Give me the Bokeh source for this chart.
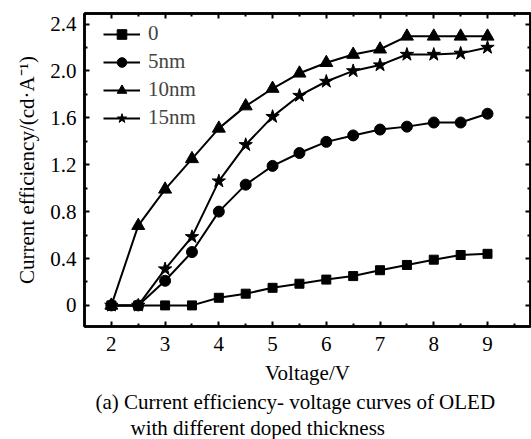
from bokeh.plotting import figure
from bokeh.models import Range1d, LinearAxis, Legend, LegendItem, FixedTicker, Title
from bokeh.embed import file_html
from bokeh.resources import INLINE

voltage = [2, 2.5, 3, 3.5, 4, 4.5, 5, 5.5, 6, 6.5, 7, 7.5, 8, 8.5, 9]
eff_0 = [0, 0, 0, 0, 0.065, 0.10, 0.15, 0.185, 0.22, 0.25, 0.30, 0.345, 0.39, 0.43, 0.44]
eff_5 = [0, 0, 0.21, 0.455, 0.80, 1.03, 1.19, 1.30, 1.395, 1.45, 1.50, 1.525, 1.56, 1.56, 1.635]
eff_10 = [0, 0.68, 0.99, 1.25, 1.51, 1.70, 1.85, 1.98, 2.07, 2.14, 2.185, 2.295, 2.295, 2.295, 2.295]
eff_15 = [0, 0, 0.31, 0.585, 1.06, 1.37, 1.61, 1.79, 1.91, 2.00, 2.05, 2.14, 2.14, 2.15, 2.20]
series_labels = ["0", "5nm", "10nm", "15nm"]
x_ticks = [2, 3, 4, 5, 6, 7, 8, 9]
y_ticks = [0, 0.4, 0.8, 1.2, 1.6, 2.0, 2.4]
y_tick_labels = {0: "0", 0.4: "0.4", 0.8: "0.8", 1.2: "1.2", 1.6: "1.6", 2.0: "2.0", 2.4: "2.4"}
x_label = "Voltage/V"
y_label = "Current efficiency/(cd·A⁻¹)"
caption1 = "(a) Current efficiency- voltage curves of OLED"
caption2 = "with different doped thickness"

FONT = "Liberation Serif"
FS = "21px"

p = figure(width=531, height=439, output_backend="svg", toolbar_location=None,
           x_range=Range1d(1.5, 9.8), y_range=Range1d(-0.18, 2.49),
           min_border_left=84, min_border_right=1, min_border_top=13, min_border_bottom=0,
           x_axis_location=None, y_axis_location=None)
p.grid.visible = False
p.outline_line_color = "black"
p.outline_line_width = 2.5
p.background_fill_color = "white"
p.border_fill_color = "white"

xminor = [2.5, 3.5, 4.5, 5.5, 6.5, 7.5, 8.5, 9.5]
yminor = [-0.2, 0.2, 0.6, 1.0, 1.4, 1.8, 2.2]

def make_axis(ticks, minor, show_labels):
    ax = LinearAxis()
    ax.ticker = FixedTicker(ticks=ticks, minor_ticks=minor)
    ax.axis_line_color = "black"
    ax.axis_line_width = 2.5
    ax.major_tick_in = 5
    ax.major_tick_out = 0
    ax.major_tick_line_width = 2
    ax.minor_tick_in = 3
    ax.minor_tick_out = 0
    ax.minor_tick_line_width = 2
    ax.major_label_text_font = FONT
    ax.major_label_text_color = "black"
    ax.axis_label_text_font = FONT
    ax.axis_label_text_font_size = FS
    ax.axis_label_text_font_style = "normal"
    ax.axis_label_text_color = "black"
    if show_labels:
        ax.major_label_text_font_size = FS
    else:
        ax.major_label_text_font_size = "0px"
        ax.major_label_standoff = 0
        ax.major_label_overrides = {t: "" for t in ticks}
    return ax

xb = make_axis(x_ticks, xminor, True)
xb.major_label_standoff = 10
xb.axis_label = x_label
xb.axis_label_standoff = 7
xt = make_axis(x_ticks, xminor, False)
yl = make_axis(y_ticks, yminor, True)
yl.major_label_overrides = y_tick_labels
yl.major_label_standoff = 8
yl.axis_label = y_label
yl.axis_label_standoff = 8
yr = make_axis(y_ticks, yminor, False)
p.add_layout(xb, "below")
p.add_layout(xt, "above")
p.add_layout(yl, "left")
p.add_layout(yr, "right")

t1 = Title(text=caption1, align="left", offset=11, standoff=0,
           text_font=FONT, text_font_size=FS, text_font_style="normal", text_color="black")
t2 = Title(text=caption2, align="left", offset=46, standoff=0,
           text_font=FONT, text_font_size=FS, text_font_style="normal", text_color="black")
p.add_layout(t1, "below")
p.add_layout(t2, "below")

items = []
specs = [(eff_0, "square", 9), (eff_5, "circle", 11), (eff_10, "triangle", 13), (eff_15, "star", 14)]
for (ys, marker, size), lab in zip(specs, series_labels):
    l = p.line(voltage, ys, line_color="black", line_width=2)
    s = p.scatter(voltage, ys, marker=marker, size=size, fill_color="black", line_color="black")
    items.append(LegendItem(label=lab, renderers=[l, s]))

legend = Legend(items=items, location=(19, 196), padding=0, margin=0,
                border_line_color=None, background_fill_alpha=0,
                glyph_width=37, glyph_height=24, label_height=24, spacing=3,
                label_text_font=FONT, label_text_font_size=FS, label_standoff=8)
p.add_layout(legend, "center")

open("out.html", "w").write(file_html(p, INLINE))
